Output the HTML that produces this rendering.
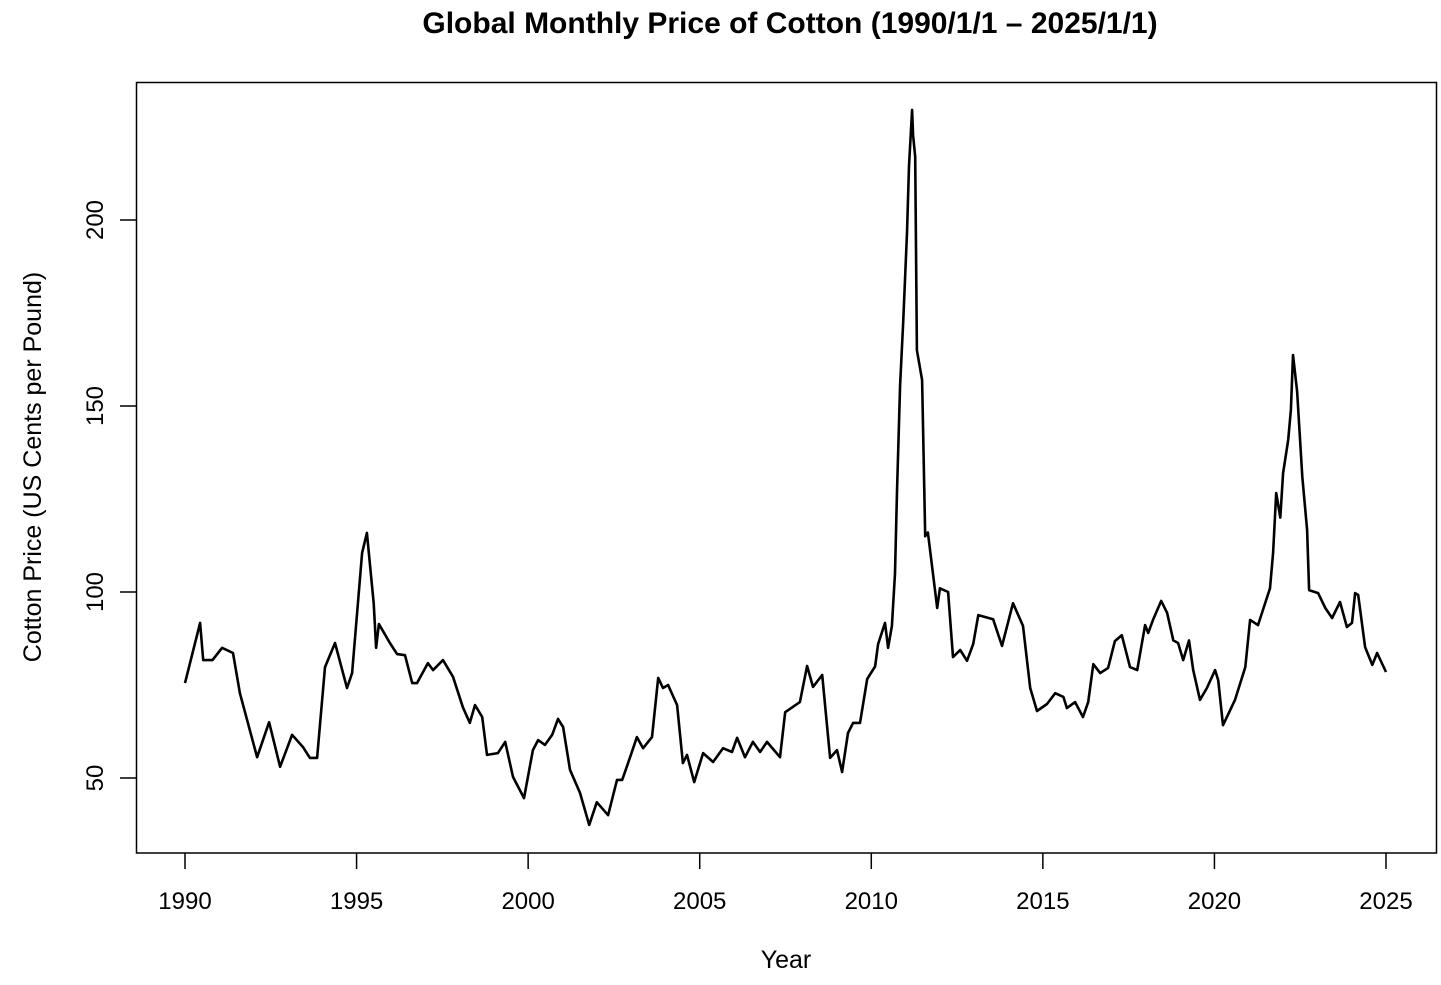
<!DOCTYPE html>
<html><head><meta charset="utf-8"><style>
html,body{margin:0;padding:0;background:#fff;}
svg{display:block;font-family:"Liberation Sans",Arial,sans-serif;}
</style></head><body>
<svg id="chart" width="1441" height="985" viewBox="0 0 1441 985" xmlns="http://www.w3.org/2000/svg">
<rect x="0" y="0" width="1441" height="985" fill="#fff"/>
<text x="790" y="33" font-size="30" font-weight="bold" text-anchor="middle">Global Monthly Price of Cotton (1990/1/1 – 2025/1/1)</text>
<rect x="136.5" y="82.5" width="1300" height="770.5" fill="none" stroke="#000" stroke-width="1.5"/>
<g id="xaxis"></g>
<g id="yaxis"></g>
<text x="786" y="968" font-size="25" text-anchor="middle">Year</text>
<text x="0" y="0" font-size="25" text-anchor="middle" transform="translate(41,467) rotate(-90)">Cotton Price (US Cents per Pound)</text>
<path id="series" fill="none" stroke="#000" stroke-width="2.6" stroke-linejoin="round"/>
</svg>
<script>
const years = [1990.0,1990.44,1990.53,1990.8,1991.08,1991.4,1991.6,1992.1,1992.45,1992.77,1993.12,1993.44,1993.64,1993.85,1994.08,1994.37,1994.72,1994.87,1995.16,1995.3,1995.5,1995.57,1995.65,1995.97,1996.18,1996.41,1996.62,1996.76,1997.08,1997.23,1997.52,1997.81,1998.1,1998.3,1998.45,1998.66,1998.8,1999.12,1999.33,1999.56,1999.88,2000.14,2000.29,2000.49,2000.7,2000.87,2001.02,2001.22,2001.51,2001.78,2002.0,2002.33,2002.59,2002.74,2002.97,2003.17,2003.35,2003.61,2003.79,2003.93,2004.08,2004.34,2004.51,2004.63,2004.84,2005.1,2005.39,2005.68,2005.94,2006.09,2006.32,2006.55,2006.76,2006.96,2007.34,2007.49,2007.92,2008.13,2008.3,2008.57,2008.8,2009.0,2009.15,2009.32,2009.47,2009.67,2009.88,2010.11,2010.2,2010.4,2010.49,2010.6,2010.69,2010.75,2010.84,2010.93,2011.04,2011.1,2011.19,2011.22,2011.28,2011.33,2011.48,2011.57,2011.65,2011.92,2012.0,2012.24,2012.38,2012.59,2012.79,2012.97,2013.12,2013.55,2013.81,2014.13,2014.42,2014.63,2014.83,2015.12,2015.36,2015.6,2015.7,2015.94,2016.17,2016.32,2016.47,2016.67,2016.9,2017.1,2017.3,2017.54,2017.75,2017.98,2018.07,2018.21,2018.45,2018.62,2018.8,2018.94,2019.09,2019.26,2019.38,2019.58,2019.78,2020.02,2020.11,2020.25,2020.6,2020.9,2021.04,2021.27,2021.62,2021.71,2021.8,2021.92,2022.0,2022.15,2022.23,2022.29,2022.41,2022.56,2022.7,2022.76,2023.02,2023.23,2023.43,2023.66,2023.86,2024.01,2024.1,2024.19,2024.39,2024.6,2024.74,2025.0];
const prices = [75.5,91.7,81.7,81.7,85,83.6,72.8,55.6,65,53,61.6,58.3,55.4,55.4,79.8,86.3,74.2,78.2,110.5,115.9,97,85,91.4,86.3,83.3,83,75.5,75.5,80.9,79,81.7,77.2,69,64.8,69.6,66.4,56.2,56.7,59.7,50.3,44.6,57.5,60.2,58.9,61.6,65.9,63.7,52.2,46,37.4,43.5,40,49.5,49.5,55.6,61,58,61,76.9,74.2,75,69.6,54,56.2,48.9,56.7,54.3,58,57,60.8,55.6,59.7,57,59.7,55.6,67.7,70.4,80.1,74.5,77.7,55.4,57.5,51.6,62.1,64.8,64.8,76.6,80,86,91.7,85,90.9,105,127,155.6,172.6,196.5,214.5,229.6,222.8,217,165,157,115,116,95.7,101,100,82.5,84.4,81.5,86,93.8,92.7,85.5,97,90.9,74.2,68,69.9,72.8,71.8,68.8,70.4,66.4,70.4,80.6,78.2,79.6,86.8,88.4,79.8,79,91.1,89,92.5,97.6,94.4,87,86.3,81.7,87,79,71,74.2,79,76.3,64.2,71,79.8,92.5,91.1,101,110.5,126.6,120,132,140.9,149,163.7,154,131,116.7,100.5,99.7,95.7,93,97.3,90.6,91.7,99.7,99.2,85.2,80.4,83.6,78.5];
const xTicks = [1990,1995,2000,2005,2010,2015,2020,2025];
const yTicks = [50,100,150,200];

const NS = 'http://www.w3.org/2000/svg';
function sx(y){ return 185 + (y - 1990) * (1386 - 185) / 35; }
function sy(v){ return 778 - (v - 50) * 3.72; }

let d = '';
for (let i = 0; i < years.length; i++) {
  d += (i ? 'L' : 'M') + sx(years[i]).toFixed(1) + ',' + sy(prices[i]).toFixed(1);
}
document.getElementById('series').setAttribute('d', d);

const xa = document.getElementById('xaxis');
for (const t of xTicks) {
  const ln = document.createElementNS(NS, 'line');
  
  
  ln.setAttribute('x1', sx(t)); ln.setAttribute('x2', sx(t));
  ln.setAttribute('y1', 853); ln.setAttribute('y2', 869);
  ln.setAttribute('stroke', '#000'); ln.setAttribute('stroke-width', '1.5');
  xa.appendChild(ln);
  const tx = document.createElementNS(NS, 'text');
  
  
  tx.setAttribute('x', sx(t)); tx.setAttribute('y', 909);
  tx.setAttribute('font-size', '24'); tx.setAttribute('text-anchor', 'middle');
  tx.textContent = t;
  xa.appendChild(tx);
}
const ya = document.getElementById('yaxis');
for (const t of yTicks) {
  const ln = document.createElementNS(NS, 'line');
  
  
  ln.setAttribute('x1', 120); ln.setAttribute('x2', 136.5);
  ln.setAttribute('y1', sy(t)); ln.setAttribute('y2', sy(t));
  ln.setAttribute('stroke', '#000'); ln.setAttribute('stroke-width', '1.5');
  ya.appendChild(ln);
  const tx = document.createElementNS(NS, 'text');
  
  
  tx.setAttribute('font-size', '24'); tx.setAttribute('text-anchor', 'middle');
  tx.setAttribute('transform', 'translate(103,' + sy(t) + ') rotate(-90)');
  tx.textContent = t;
  ya.appendChild(tx);
}
</script>
</body></html>
